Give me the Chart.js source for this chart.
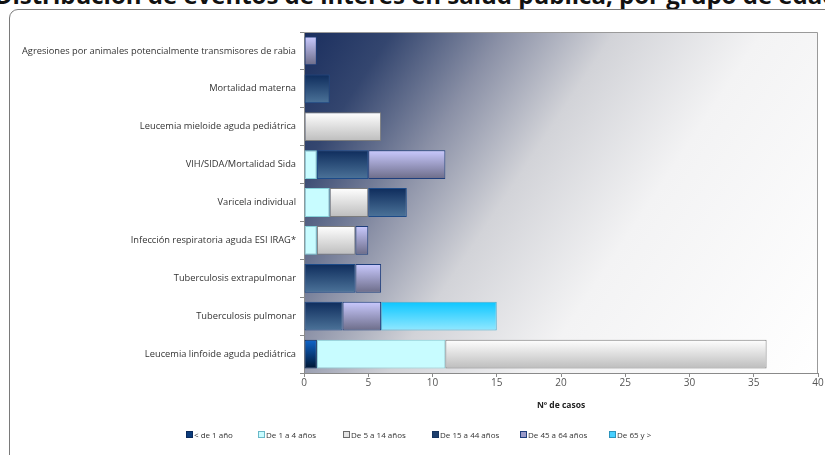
<!DOCTYPE html>
<html lang="es">
<head>
<meta charset="utf-8">
<title>Distribución de eventos de interés en salud pública, por grupo de edad</title>
<script src="https://cdn.jsdelivr.net/npm/chart.js@4/dist/chart.umd.min.js"></script>
<style>
  html, body { margin: 0; padding: 0; background: #ffffff; }
  body { width: 825px; height: 455px; position: relative; overflow: hidden; font-family: "Open Sans", "DejaVu Sans", sans-serif; }
  #title { position: absolute; left: 416px; top: -22px; transform: translateX(-50%); white-space: nowrap;
           font-family: "Open Sans", sans-serif; font-weight: bold; font-size: 24px; color: #111; }
  #frame { position: absolute; left: 9px; top: 9px; width: 840px; height: 470px; border: 1px solid #7a7a7a; border-radius: 9px; }
  #chartWrap { position: absolute; left: 0; top: 0; width: 825px; height: 455px; }
  #legend { position: absolute; top: 429px; left: 0; width: 825px; height: 14px; font-size: 8px; color: #333; }
  .item { position: absolute; display: flex; align-items: center; white-space: nowrap; }
  .box { width: 5px; height: 5px; margin-right: 1px; border: 1px solid #555; }
</style>
</head>
<body>
<div id="title">Distribución de eventos de interés en salud pública, por grupo de edad</div>
<div id="frame"></div>
<div id="chartWrap"><canvas id="chart" width="825" height="455"></canvas></div>
<div id="legend"></div>
<script>
// Events, listed top to bottom
const eventos = [
  "Agresiones por animales potencialmente transmisores de rabia",
  "Mortalidad materna",
  "Leucemia mieloide aguda pediátrica",
  "VIH/SIDA/Mortalidad Sida",
  "Varicela individual",
  "Infección respiratoria aguda ESI IRAG*",
  "Tuberculosis extrapulmonar",
  "Tuberculosis pulmonar",
  "Leucemia linfoide aguda pediátrica"
];

// Age groups
const gruposEdad = ["< de 1 año", "De 1 a 4 años", "De 5 a 14 años", "De 15 a 44 años", "De 45 a 64 años", "De 65 y >"];

// Number of cases per age group, same order as eventos
const menor1   = [0, 0, 0, 0, 0, 0, 0, 0, 1];
const de1a4    = [0, 0, 0, 1, 2, 1, 0, 0, 10];
const de5a14   = [0, 0, 6, 0, 3, 3, 0, 0, 25];
const de15a44  = [0, 2, 0, 4, 3, 0, 4, 3, 0];
const de45a64  = [1, 0, 0, 6, 0, 1, 2, 3, 0];
const de65     = [0, 0, 0, 0, 0, 0, 0, 9, 0];

// X axis ticks
const ticksX = [0, 5, 10, 15, 20, 25, 30, 35, 40];
const tituloX = "Nº de casos";

const series = [menor1, de1a4, de5a14, de15a44, de45a64, de65];

// Fill styles per age group: gradient top, gradient bottom, border, legend swatch
const estilos = [
  { top: "#0f66cc", bottom: "#001633", border: "#0a2a5c", swatch: "#0b3c7c", swatchBorder: "#0a2a5c" },
  { top: "#c8fcff", bottom: "#c8fcff", border: "#86d2da", swatch: "#c8fcff", swatchBorder: "#6ab8c8" },
  { top: "#ffffff", bottom: "#bdbdbd", border: "#7c7c7c", swatch: "#e4e4e4", swatchBorder: "#6a6a6a" },
  { top: "#0e2c5c", bottom: "#4c7399", border: "#1c4a88", swatch: "#1d3e6c", swatchBorder: "#16345e" },
  { top: "#cacaff", bottom: "#6c6c88", border: "#1e3e7c", swatch: "#9a9ac8", swatchBorder: "#1e3e7c" },
  { top: "#0cc6ff", bottom: "#92e8ff", border: "#4aaed0", swatch: "#48d0ff", swatchBorder: "#2c94bc" }
];

const BAR_PCT = 0.76;

function barFill(i) {
  return function (ctx) {
    const st = estilos[i];
    const y = ctx.chart.scales && ctx.chart.scales.y;
    if (ctx.type !== 'data' || !y) return st.swatch;
    const band = (y.bottom - y.top) / eventos.length;
    const c = y.getPixelForValue(ctx.dataIndex);
    const h = band * BAR_PCT / 2;
    if (!isFinite(c) || !isFinite(h) || h <= 0) return st.swatch;
    const g = ctx.chart.ctx.createLinearGradient(0, c - h, 0, c + h);
    g.addColorStop(0, st.top);
    g.addColorStop(1, st.bottom);
    return g;
  };
}

const datasets = gruposEdad.map((name, i) => ({
  label: name,
  data: series[i],
  backgroundColor: barFill(i),
  borderColor: estilos[i].border,
  borderWidth: (ctx) => (ctx.raw ? 1 : 0),
  borderSkipped: false,
  barPercentage: BAR_PCT,
  categoryPercentage: 1
}));

// Plot background: dark navy in the upper-left corner fading to white
const plotBackground = {
  id: 'plotBackground',
  beforeDraw(chart) {
    const { ctx, chartArea: a } = chart;
    ctx.save();
    const g = ctx.createLinearGradient(a.left, a.top, a.right, a.bottom);
    g.addColorStop(0.00, "#1a2e5e");
    g.addColorStop(0.12, "#34466f");
    g.addColorStop(0.27, "#8a90a6");
    g.addColorStop(0.42, "#d2d3d8");
    g.addColorStop(0.62, "#f3f3f4");
    g.addColorStop(1.00, "#ffffff");
    ctx.fillStyle = g;
    ctx.fillRect(a.left, a.top, a.right - a.left, a.bottom - a.top);
    ctx.restore();
  },
  afterDatasetsDraw(chart) {
    const { ctx, chartArea: a } = chart;
    ctx.save();
    ctx.strokeStyle = "#9a9a9a";
    ctx.lineWidth = 1;
    ctx.beginPath();
    ctx.moveTo(a.left, a.top + 0.5);
    ctx.lineTo(a.right - 0.5, a.top + 0.5);
    ctx.lineTo(a.right - 0.5, a.bottom);
    ctx.stroke();
    ctx.restore();
  }
};

new Chart(document.getElementById('chart'), {
  type: 'bar',
  data: { labels: eventos, datasets },
  plugins: [plotBackground],
  options: {
    indexAxis: 'y',
    responsive: false,
    animation: false,
    layout: { padding: { left: 0, top: 32, right: 7, bottom: 44 } },
    plugins: { legend: { display: false }, tooltip: { enabled: false }, title: { display: false } },
    scales: {
      x: {
        stacked: true,
        min: ticksX[0],
        max: ticksX[ticksX.length - 1],
        afterBuildTicks: (s) => { s.ticks = ticksX.map(v => ({ value: v })); },
        afterFit: (s) => { s.height = 38; },
        grid: { display: true, drawOnChartArea: false, drawTicks: true, tickLength: 4, color: "#8a8a8a" },
        border: { display: true, color: "#8a8a8a" },
        ticks: { font: { family: "Open Sans", size: 10 }, color: "#555", padding: 0 },
        title: { display: true, text: tituloX, font: { family: "Open Sans", size: 8.5, weight: "bold" }, color: "#222", padding: { top: 2, bottom: 0 } }
      },
      y: {
        stacked: true,
        afterFit: (s) => { s.width = 304; },
        grid: { display: true, drawOnChartArea: false, drawTicks: true, tickLength: 4, color: "#8a8a8a", offset: true },
        border: { display: true, color: "#8a8a8a" },
        ticks: { font: { family: "Open Sans", size: 9.3 }, color: "#333", padding: 4, autoSkip: false }
      }
    }
  }
});

// Legend along the bottom
const legendX = [186, 258, 343, 432, 520, 609];
const legend = document.getElementById('legend');
gruposEdad.forEach((name, i) => {
  const it = document.createElement('div');
  it.className = 'item';
  it.style.left = legendX[i] + 'px';
  const b = document.createElement('span');
  b.className = 'box';
  b.style.background = estilos[i].swatch;
  b.style.borderColor = estilos[i].swatchBorder;
  const t = document.createElement('span');
  t.textContent = name;
  it.appendChild(b);
  it.appendChild(t);
  legend.appendChild(it);
});
</script>
</body>
</html>
